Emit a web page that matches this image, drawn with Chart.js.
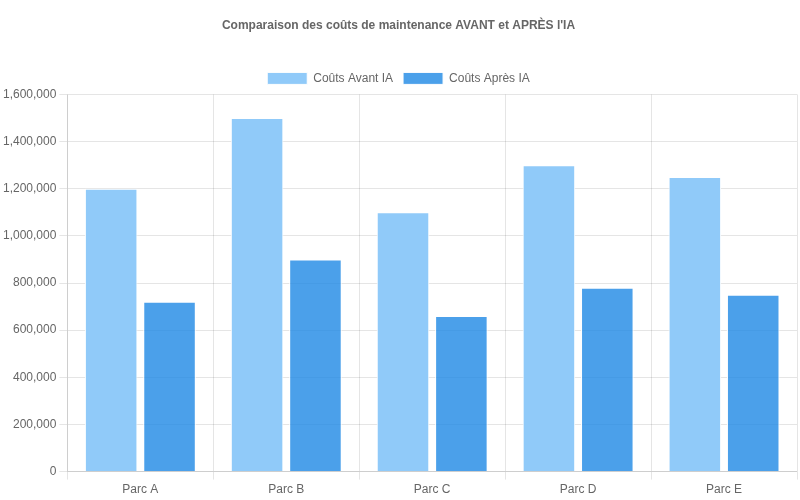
<!DOCTYPE html>
<html><head><meta charset="utf-8">
<script src="https://cdn.jsdelivr.net/npm/chart.js@4"></script>
<style>html,body{margin:0;padding:0;background:#fff}#w{width:800px;height:500px}</style>
</head><body><div id="w"><canvas id="c"></canvas></div>
<script>
const categories = ["Parc A","Parc B","Parc C","Parc D","Parc E"];
const avantIA = [1200000,1500000,1100000,1300000,1250000];
const apresIA = [720000,900000,660000,780000,750000];
Chart.defaults.font.family = "'Liberation Sans', Arial, sans-serif";
Chart.defaults.color = "#666";
new Chart(document.getElementById('c'), {
  type: 'bar',
  data: { labels: categories, datasets: [
    { label: 'Coûts Avant IA', data: avantIA, backgroundColor: 'rgba(144,202,249,1)', borderColor:'#fff', borderWidth:1 },
    { label: 'Coûts Après IA', data: apresIA, backgroundColor: 'rgba(30,136,229,0.8)', borderColor:'#fff', borderWidth:1 }
  ]},
  options: {
    responsive: true, maintainAspectRatio: false, animation: false,
    layout: { padding: { top: 18, right: 3 } },
    plugins: {
      title: { display: true, text: "Comparaison des coûts de maintenance AVANT et APRÈS l'IA", font: { size: 12, weight: 'bold' }, padding: { bottom: 30 } },
      legend: { labels: { boxWidth: 40, boxHeight: 12, font: { size: 12 } } }
    },
    scales: {
      y: { beginAtZero: true, max: 1600000, ticks: { stepSize: 200000 } },
      x: {}
    }
  }
});
</script></body></html>
